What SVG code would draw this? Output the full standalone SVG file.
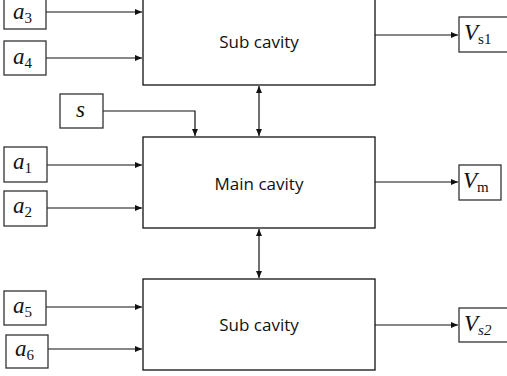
<svg xmlns="http://www.w3.org/2000/svg" width="507" height="376" viewBox="0 0 507 376">
<defs>
<marker id="ah" markerWidth="8" markerHeight="8" refX="7" refY="4" orient="auto" markerUnits="userSpaceOnUse">
<path d="M0,1 L7,4 L0,7 Z" fill="#111"/>
</marker>
<marker id="ahs" markerWidth="8" markerHeight="8" refX="7" refY="4" orient="auto-start-reverse" markerUnits="userSpaceOnUse">
<path d="M0,1 L7,4 L0,7 Z" fill="#111"/>
</marker>
</defs>
<style>
.box{fill:#fff;stroke:#111;stroke-width:1.3}
.sbox{fill:#fff;stroke:#333;stroke-width:1.3}
.lbl{font-family:"Open Sans","Liberation Sans",sans-serif;font-size:17px;fill:#111;text-anchor:middle}
.m{font-family:"Liberation Serif","DejaVu Serif",serif;font-style:italic;font-size:23px;fill:#111}
.sub{font-size:15px}
.r{font-style:normal}
.con{fill:none;stroke:#111;stroke-width:1.2}
</style>
<rect width="507" height="376" fill="#fff"/>
<g id="connectors">
<path class="con" d="M46,12 H142" marker-end="url(#ah)"/>
<path class="con" d="M46,58 H142" marker-end="url(#ah)"/>
<path class="con" d="M103,111 H195 V136" marker-end="url(#ah)"/>
<path class="con" d="M259,86 V136" marker-start="url(#ahs)" marker-end="url(#ahs)"/>
<path class="con" d="M375,35 H458" marker-end="url(#ah)"/>
<path class="con" d="M47,165 H142" marker-end="url(#ah)"/>
<path class="con" d="M47,208 H142" marker-end="url(#ah)"/>
<path class="con" d="M375,182 H458" marker-end="url(#ah)"/>
<path class="con" d="M259,229 V278" marker-start="url(#ahs)" marker-end="url(#ahs)"/>
<path class="con" d="M46,307 H142" marker-end="url(#ah)"/>
<path class="con" d="M48,349 H142" marker-end="url(#ah)"/>
<path class="con" d="M375,325 H458" marker-end="url(#ah)"/>
</g>
<g id="sub1"><rect class="box" x="143" y="-2" width="232" height="87"/><text class="lbl" x="259" y="48">Sub cavity</text></g>
<g id="main"><rect class="box" x="143" y="137" width="232" height="91"/><text class="lbl" x="259" y="190">Main cavity</text></g>
<g id="sub2"><rect class="box" x="143" y="279" width="232" height="91"/><text class="lbl" x="259" y="331">Sub cavity</text></g>
<g id="a3"><rect class="sbox" x="4" y="-2" width="42" height="31"/><text class="m" x="13" y="19">a<tspan class="sub r" dy="4">3</tspan></text></g>
<g id="a4"><rect class="sbox" x="4" y="41" width="42" height="34"/><text class="m" x="13" y="64">a<tspan class="sub r" dy="4">4</tspan></text></g>
<g id="s"><rect class="sbox" x="60" y="94" width="43" height="34"/><text class="m" x="76" y="117">s</text></g>
<g id="a1"><rect class="sbox" x="4" y="147" width="43" height="35"/><text class="m" x="13" y="169">a<tspan class="sub r" dy="4">1</tspan></text></g>
<g id="a2"><rect class="sbox" x="4" y="191" width="43" height="35"/><text class="m" x="13" y="213">a<tspan class="sub r" dy="4">2</tspan></text></g>
<g id="a5"><rect class="sbox" x="4" y="291" width="42" height="34"/><text class="m" x="13" y="313">a<tspan class="sub r" dy="4">5</tspan></text></g>
<g id="a6"><rect class="sbox" x="6" y="335" width="42" height="33"/><text class="m" x="15" y="356">a<tspan class="sub r" dy="4">6</tspan></text></g>
<g id="vs1"><rect class="sbox" x="459" y="17" width="50" height="35"/><text class="m" x="464" y="40">V<tspan class="sub r" dy="4">s1</tspan></text></g>
<g id="vm"><rect class="sbox" x="459" y="165" width="42" height="35"/><text class="m" x="463" y="188">V<tspan class="sub r" dy="4">m</tspan></text></g>
<g id="vs2"><rect class="sbox" x="459" y="308" width="50" height="34"/><text class="m" x="464" y="331">V<tspan class="sub" dy="4">s2</tspan></text></g>
</svg>
